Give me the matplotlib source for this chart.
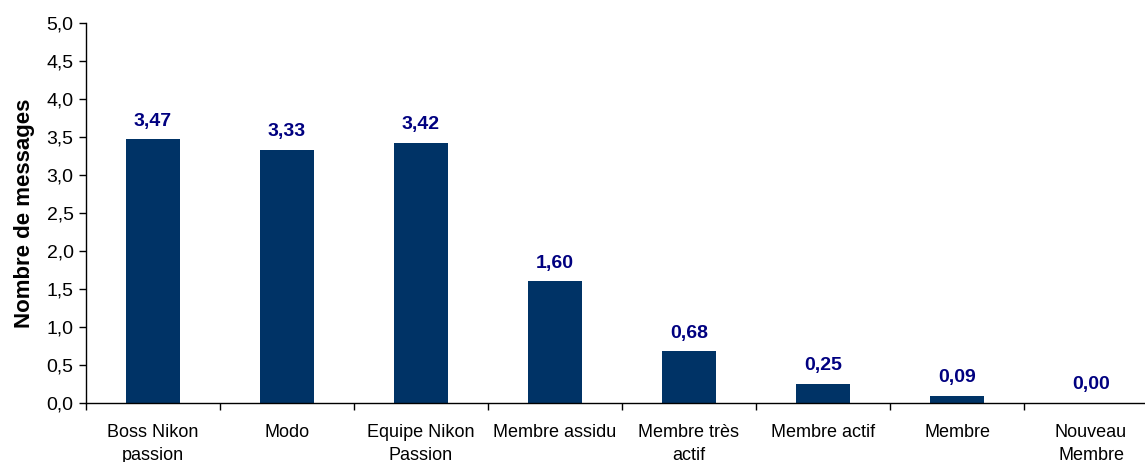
import matplotlib
matplotlib.use("Agg")
import matplotlib.pyplot as plt
from matplotlib.ticker import FixedLocator, FuncFormatter

categories = ["Boss Nikon\npassion", "Modo", "Equipe Nikon\nPassion", "Membre assidu",
              "Membre très\nactif", "Membre actif", "Membre", "Nouveau\nMembre"]
values = [3.47, 3.33, 3.42, 1.60, 0.68, 0.25, 0.09, 0.00]
yticks = [0.0, 0.5, 1.0, 1.5, 2.0, 2.5, 3.0, 3.5, 4.0, 4.5, 5.0]

plt.rcParams['font.family'] = ['Liberation Sans', 'DejaVu Sans']

fig = plt.figure(figsize=(11.45, 4.62), dpi=100)
W, H = 1145, 462
left, bottom = 86 / W, 1 - 403 / H
width = 8 * 134 / W
height = (403 - 23) / H
ax = fig.add_axes([left, bottom, width, height])

x = list(range(len(categories)))
ax.bar(x, values, width=0.4, color="#003366", zorder=2)
for xi, v in zip(x, values):
    ax.annotate(f"{v:.2f}".replace(".", ","), (xi, v), xytext=(0, 7), textcoords="offset points",
                ha="center", va="bottom", color="#000080", fontsize=14, fontweight="bold")

ax.set_xlim(-0.5, len(categories) - 0.5)
ax.set_ylim(0, 5)
ax.set_yticks(yticks)
ax.yaxis.set_major_formatter(FuncFormatter(lambda v, p: f"{v:.1f}".replace(".", ",")))
ax.set_xticks(x)
ax.set_xticklabels(categories, fontsize=13, linespacing=1.5)
ax.xaxis.set_minor_locator(FixedLocator([i - 0.5 for i in range(len(categories) + 1)]))
ax.tick_params(axis="x", which="major", length=0, pad=15)
ax.tick_params(axis="x", which="minor", length=5, direction="out", width=1)
ax.tick_params(axis="y", length=5, direction="out", labelsize=14, width=1, pad=4)

for s in ["top", "right"]:
    ax.spines[s].set_visible(False)
for s in ["left", "bottom"]:
    ax.spines[s].set_linewidth(1)
    ax.spines[s].set_color("black")

ax.set_ylabel("Nombre de messages", fontsize=16, fontweight="bold", labelpad=8)

fig.savefig("out.png", dpi=100)
